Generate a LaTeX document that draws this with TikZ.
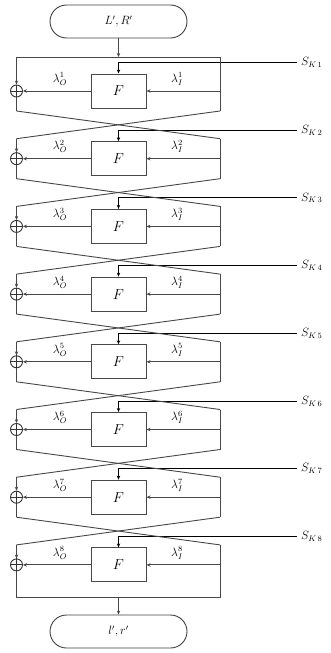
\documentclass[tikz,border=0pt]{standalone}
\usetikzlibrary{arrows.meta,shapes.misc}
\begin{document}
\begin{tikzpicture}[x=1pt,y=-1pt,
  wire/.style={draw=black!72, line width=0.9pt},
  arr/.style={wire,-{Stealth[length=4pt,width=3.4pt]}},
  keyline/.style={draw=black, line width=0.9pt,-{Stealth[length=4pt,width=3.4pt]}},
  fbox/.style={draw=black!72, line width=1pt, minimum width=55pt, minimum height=34pt,
    inner sep=0pt, font=\Large},
  term/.style={draw=black!75, line width=0.9pt, rounded rectangle,
    minimum width=137pt, minimum height=33pt, inner sep=0pt, font=\large},
  xorc/.style={circle, draw=black!80, line width=0.9pt, minimum size=12pt, inner sep=0pt},
  lab/.style={inner sep=0pt, font=\large},
  keylab/.style={anchor=west, inner sep=0pt, font=\large},
]
\useasboundingbox (0,0) rectangle (331,653);

% input and output terminals
\node[term] (in)  at (118.5,21.5) {$L', R'$};
\node[term] (out) at (118.5,631.5) {$l', r'$};

% eight rounds
\foreach \i in {1,...,8} {
  \pgfmathsetmacro{\yc}{91+67.7*(\i-1)}
  \pgfmathsetmacro{\tp}{\i==1 ? 34 : 20}
  \pgfmathsetmacro{\bt}{\i==8 ? 33 : 20}
  \node[fbox] (F\i) at (118.5,\yc) {$F$};
  \node[xorc] (X\i) at (16.5,\yc) {};
  \draw[black!80, line width=0.9pt] (X\i.north) -- (X\i.south) (X\i.west) -- (X\i.east);
  \coordinate (TL\i) at (16.5,\yc-\tp);
  \coordinate (TR\i) at (220,\yc-\tp);
  \coordinate (BL\i) at (16.5,\yc+\bt);
  \coordinate (BR\i) at (220,\yc+\bt);
  \coordinate (R\i)  at (220,\yc);
  \coordinate (K\i)  at (297,\yc-28.5);
  \coordinate (KJ\i) at (118.5,\yc-28.5);
  \node[keylab] (SK\i) at (301,\yc-28.5) {$S_{K\,\i}$};
  \node[lab] (LO\i) at (60,\yc-12) {$\lambda_O^{\i}$};
  \node[lab] (LI\i) at (177,\yc-12) {$\lambda_I^{\i}$};
  \draw[keyline] (K\i) -- (KJ\i) -- (F\i.north);
  \draw[arr] (R\i) -- (F\i.east);
  \draw[arr] (F\i.west) -- (X\i.east);
  \draw[arr] (TL\i) -- (X\i.north);
  \draw[wire] (X\i.south) -- (BL\i);
  \draw[wire] (TR\i) -- (BR\i);
}

% swaps between rounds
\foreach \i [evaluate=\i as \j using int(\i+1)] in {1,...,7} {
  \draw[wire] (BL\i) -- (TR\j);
  \draw[wire] (BR\i) -- (TL\j);
}

% top and bottom rails
\coordinate (T1) at (118.5,57);
\coordinate (B8) at (118.5,597.9);
\draw[wire] (TL1) -- (TR1);
\draw[wire] (BL8) -- (BR8);
\draw[arr] (in.south) -- (T1);
\draw[arr] (B8) -- (out.north);
\end{tikzpicture}
\end{document}
